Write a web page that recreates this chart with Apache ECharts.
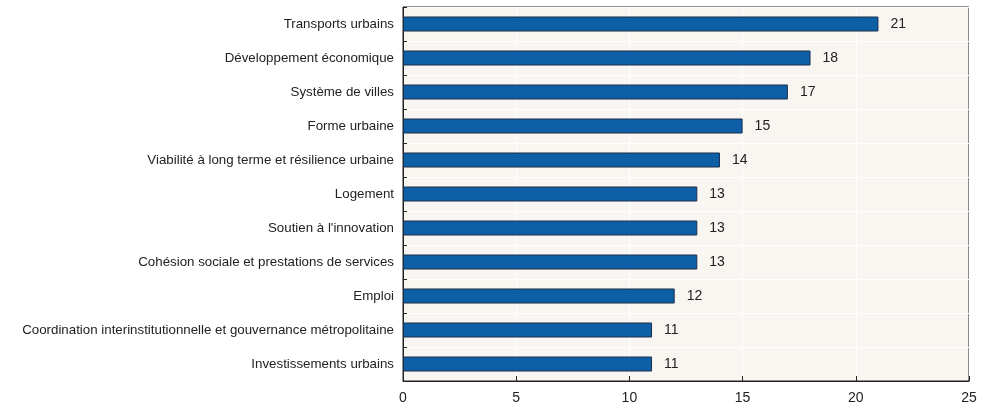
<!DOCTYPE html>
<html><head><meta charset="utf-8">
<script src="https://cdn.jsdelivr.net/npm/echarts@6/dist/echarts.min.js"></script>
<style>html,body{margin:0;padding:0;background:#fff}#c{width:1000px;height:413px}</style>
</head><body><div id="c"></div>
<script>
const categories = [
  "Transports urbains",
  "Développement économique",
  "Système de villes",
  "Forme urbaine",
  "Viabilité à long terme et résilience urbaine",
  "Logement",
  "Soutien à l'innovation",
  "Cohésion sociale et prestations de services",
  "Emploi",
  "Coordination interinstitutionnelle et gouvernance métropolitaine",
  "Investissements urbains"
];
const values = [21, 18, 17, 15, 14, 13, 13, 13, 12, 11, 11];
const xTicks = [0, 5, 10, 15, 20, 25];

const font = "'Liberation Sans', Arial, sans-serif";
const chart = echarts.init(document.getElementById('c'), null, {renderer: 'canvas'});
chart.setOption({
  animation: false,
  textStyle: {fontFamily: font},
  grid: {left: 403, right: 31, top: 7, bottom: 32, show: true,
         backgroundColor: '#f9f5f1', borderColor: '#222', borderWidth: 1},
  xAxis: {
    type: 'value', min: xTicks[0], max: xTicks[xTicks.length-1], interval: 5,
    axisLine: {show: true, lineStyle: {color: '#222'}},
    axisTick: {show: true, inside: true, length: 5, lineStyle: {color: '#222'}},
    axisLabel: {color: '#222', fontSize: 14, margin: 10, fontFamily: font},
    splitLine: {show: true, lineStyle: {color: '#ffffff', width: 1}}
  },
  yAxis: {
    type: 'category', data: categories, inverse: true,
    axisLine: {show: true, lineStyle: {color: '#222'}},
    axisTick: {show: true, inside: true, length: 4, lineStyle: {color: '#222'}},
    axisLabel: {color: '#222', fontSize: 13.3, margin: 9, fontFamily: font},
    splitLine: {show: true, lineStyle: {color: '#ffffff', width: 1}}
  },
  series: [{
    type: 'bar', data: values, barWidth: 15,
    itemStyle: {color: '#0f5fa6', borderColor: '#1b2f4f', borderWidth: 1},
    label: {show: true, position: 'right', distance: 12, color: '#222', fontSize: 14, fontFamily: font}
  }]
});
</script></body></html>
